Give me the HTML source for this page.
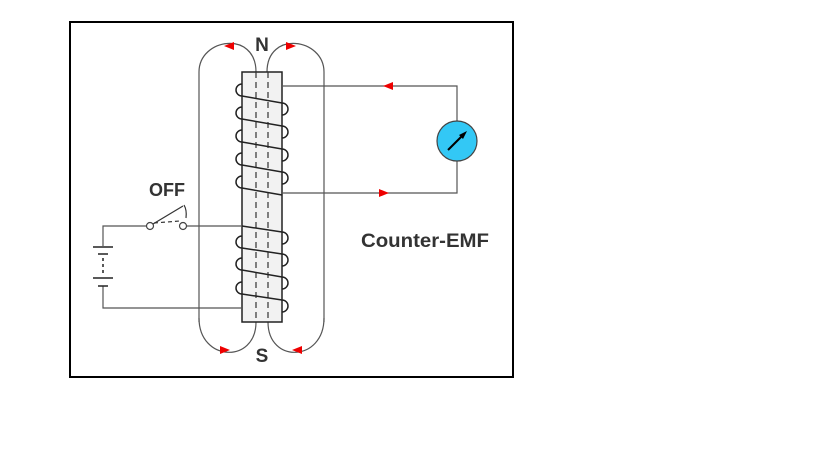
<!DOCTYPE html>
<html><head><style>body{margin:0;background:#fff}svg{display:block}</style></head><body>
<svg width="819" height="460" viewBox="0 0 819 460" xmlns="http://www.w3.org/2000/svg" font-family="Liberation Sans, sans-serif">
<rect x="70" y="22" width="443" height="355" fill="#fff" stroke="#000" stroke-width="2"/>
<g fill="none" stroke="#555" stroke-width="1.2">
<path d="M199 322 V72 C199 38 256 30 256 72"/>
<path d="M267 72 C267 30 324 38 324 72 V322"/>
<path d="M199 318 C199 362 256 364 256 322"/>
<path d="M268 322 C268 364 324 362 324 318"/>
</g>
<rect x="242" y="72" width="40" height="250" fill="#f2f2f2" stroke="#222" stroke-width="1.5"/>
<g stroke="#333" stroke-width="1.2" stroke-dasharray="6,4"><line x1="256" y1="72" x2="256" y2="322"/><line x1="268" y1="72" x2="268" y2="322"/></g>
<g fill="none" stroke="#222" stroke-width="1.5">
<path d="M242 84 A6 6 0 0 0 242 96 L282 103 A6 6 0 0 1 282 115"/>
<path d="M242 107 A6 6 0 0 0 242 119 L282 126 A6 6 0 0 1 282 138"/>
<path d="M242 130 A6 6 0 0 0 242 142 L282 149 A6 6 0 0 1 282 161"/>
<path d="M242 153 A6 6 0 0 0 242 165 L282 172 A6 6 0 0 1 282 184"/>
<path d="M242 176 A6 6 0 0 0 242 188 L282 195"/>
<path d="M242 226 L282 232 A6 6 0 0 1 282 244"/>
<path d="M242 236 A6 6 0 0 0 242 248 L282 254 A6 6 0 0 1 282 266"/>
<path d="M242 258 A6 6 0 0 0 242 270 L282 277 A6 6 0 0 1 282 289"/>
<path d="M242 282 A6 6 0 0 0 242 294 L282 300 A6 6 0 0 1 282 312"/>
</g>
<g fill="none" stroke="#555" stroke-width="1.2">
<path d="M282 86 H457 V121"/><path d="M282 193 H457 V161"/>
<path d="M242 226 H187"/><path d="M146 226 H103 V246"/><path d="M103 286 V308 H242"/>
</g>
<g stroke="#222" stroke-width="1.5"><line x1="93" y1="247" x2="113" y2="247"/><line x1="98" y1="254" x2="108" y2="254"/><line x1="103" y1="258" x2="103" y2="273" stroke-dasharray="3,3"/><line x1="93" y1="278" x2="113" y2="278"/><line x1="98" y1="286" x2="108" y2="286"/></g>
<g fill="#fff" stroke="#444" stroke-width="1.2"><circle cx="150" cy="226" r="3.5"/><circle cx="183" cy="226" r="3.5"/></g>
<g stroke="#333" stroke-width="1.2" fill="none"><line x1="153" y1="224" x2="183" y2="206"/><line x1="154" y1="223" x2="180" y2="221" stroke-dasharray="4,3"/><path d="M186 218 Q187 210 184 205"/></g>
<circle cx="457" cy="141" r="20" fill="#33c8f5" stroke="#444" stroke-width="1.2"/>
<line x1="448" y1="150" x2="464" y2="134" stroke="#000" stroke-width="2"/><polygon points="467,131 459,135 463,139" fill="#000"/>
<g fill="#e00">
<polygon points="224,46 234,42 234,50"/><polygon points="296,46 286,42 286,50"/>
<polygon points="230,350 220,346 220,354"/><polygon points="292,350 302,346 302,354"/>
<polygon points="383,86 393,82 393,90"/><polygon points="389,193 379,189 379,197"/>
</g>
<g font-weight="bold" fill="#333">
<text x="262" y="51" font-size="19" text-anchor="middle">N</text>
<text x="262" y="362" font-size="19" text-anchor="middle">S</text>
<text x="167" y="196" font-size="18" text-anchor="middle">OFF</text>
<text x="425" y="247" font-size="19" text-anchor="middle" textLength="128" lengthAdjust="spacingAndGlyphs">Counter-EMF</text>
</g>
</svg>
</body></html>
